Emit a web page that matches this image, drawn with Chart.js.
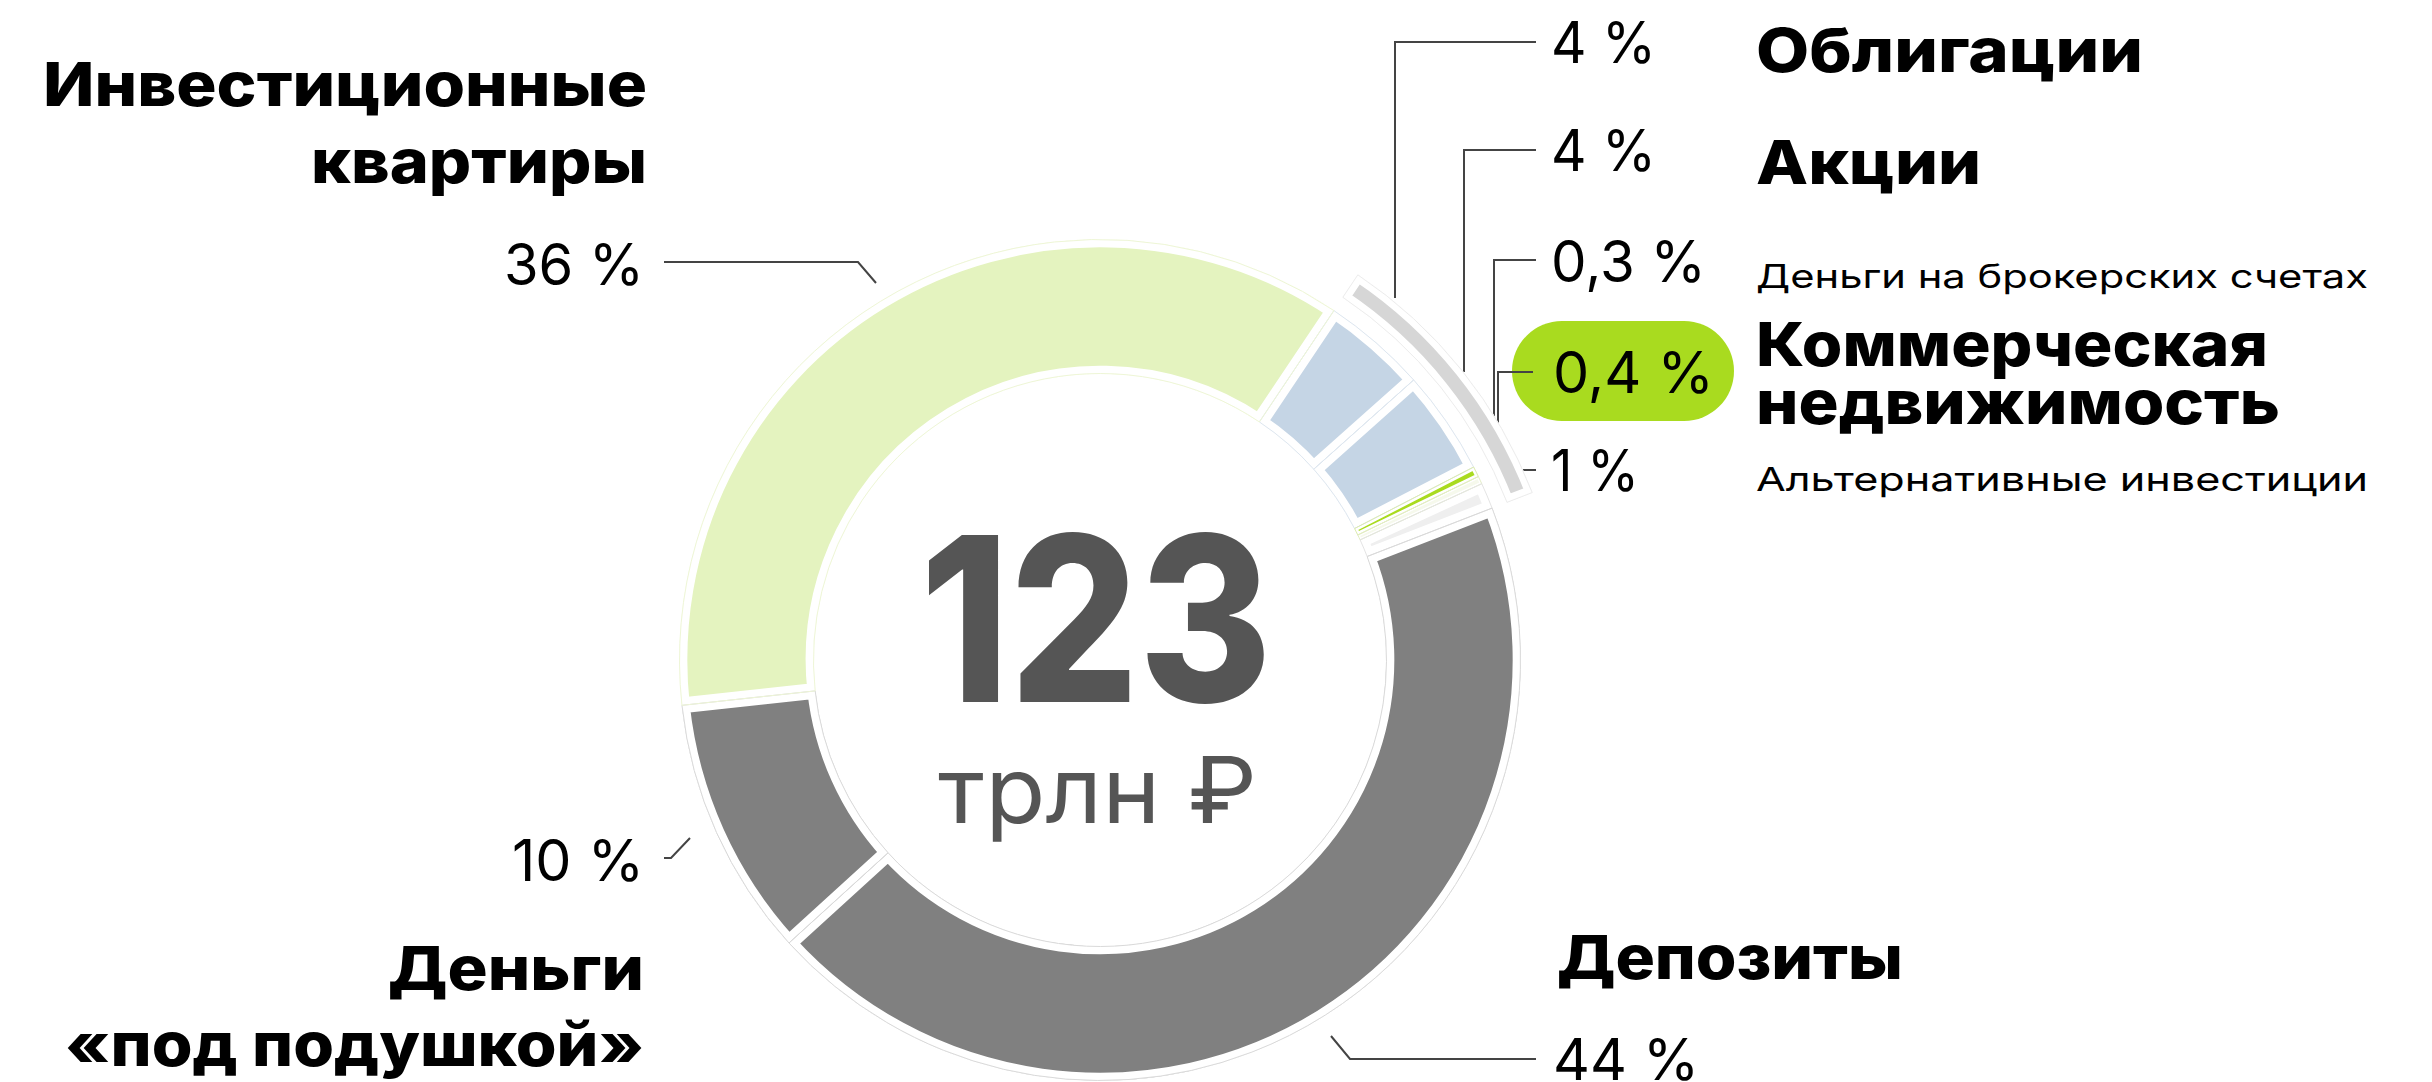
<!DOCTYPE html>
<html lang="ru">
<head>
<meta charset="utf-8">
<title>123 трлн ₽</title>
<script src="https://cdn.jsdelivr.net/npm/chart.js@4.4.0/dist/chart.umd.min.js"></script>
<style>
  html, body { margin: 0; padding: 0; background: #fff; }
  body { position: relative; width: 2432px; height: 1082px; overflow: hidden; font-family: Inter, "Noto Sans", sans-serif; font-variant-numeric: proportional-nums; }
  #wrap { position: absolute; left: 636px; top: 196px; width: 928px; height: 928px; }
  .lbl { position: absolute; white-space: nowrap; line-height: 1.2; transform-origin: 0 0; }
  .mark { display: inline-block; width: 0; height: 0; }
  .pill { position: absolute; left: 1512px; top: 321px; width: 222px; height: 100px; border-radius: 50px; background: #a9db1f; }
  svg { position: absolute; left: 0; top: 0; }
</style>
</head>
<body>
<div class="pill"></div>
<svg width="2432" height="1082" id="leaders"></svg>
<div id="wrap"><canvas id="donut" width="928" height="928"></canvas></div>
<script>
// Доли структуры сбережений (в процентах), порядок по часовой стрелке
const categories = [
  'Облигации',
  'Акции',
  'Коммерческая недвижимость',
  'Деньги на брокерских счетах',
  'Альтернативные инвестиции',
  'Депозиты',
  'Деньги «под подушкой»',
  'Инвестиционные квартиры'
];
const shares = [4, 4, 0.4, 0.3, 1, 44, 10, 36];
// первые пять категорий объединены внешней серой дугой
const groupedCount = 5;
const totalValue = '123';
const totalUnit = 'трлн ₽';

// Оформление
const sliceColors = ['#c5d5e5', '#c5d5e5', '#a9db1f', '#f6f9ec', '#efefef', '#808080', '#808080', '#e4f3bf'];
const outlineColors = ['#dde6ef', '#dde6ef', '#dcebb0', '#e3edc4', '#e4e4e4', '#d9d9d9', '#d9d9d9', '#eef6d6'];
const sliceBorders = [8, 8, 3, 2, 8, 8, 8, 8];

const groupedValues = [
  shares.slice(0, groupedCount).reduce((a, b) => a + b, 0),
  shares.slice(groupedCount).reduce((a, b) => a + b, 0)
];

// Обводка сегментов тонкой линией по границе
const outlinePlugin = {
  id: 'sliceOutline',
  afterDatasetsDraw(chart) {
    const ctx = chart.ctx;
    chart.data.datasets.forEach((ds, di) => {
      if (!ds.outlineColor) return;
      chart.getDatasetMeta(di).data.forEach((arc, i) => {
        const c = ds.outlineColor[i];
        if (!c) return;
        const p = arc.getProps(['x', 'y', 'startAngle', 'endAngle', 'innerRadius', 'outerRadius'], true);
        ctx.save();
        ctx.beginPath();
        ctx.arc(p.x, p.y, p.outerRadius - 0.5, p.startAngle, p.endAngle);
        ctx.arc(p.x, p.y, p.innerRadius + 0.5, p.endAngle, p.startAngle, true);
        ctx.closePath();
        ctx.lineWidth = 1;
        ctx.strokeStyle = c;
        ctx.stroke();
        ctx.restore();
      });
    });
  }
};

new Chart(document.getElementById('donut'), {
  type: 'doughnut',
  data: {
    labels: categories,
    datasets: [
      {
        // внешняя дуга-группа
        data: groupedValues,
        backgroundColor: ['#d6d6d6', 'rgba(0,0,0,0)'],
        borderColor: '#ffffff',
        borderWidth: [7, 0],
        outlineColor: ['#ececec', null],
        weight: 28
      },
      {
        // зазор между кольцами
        data: [1],
        backgroundColor: ['rgba(0,0,0,0)'],
        borderWidth: 0,
        weight: 15
      },
      {
        data: shares,
        backgroundColor: sliceColors,
        borderColor: '#ffffff',
        borderWidth: sliceBorders,
        outlineColor: outlineColors,
        weight: 135
      }
    ]
  },
  options: {
    responsive: false,
    devicePixelRatio: 1,
    animation: false,
    events: [],
    cutout: 286,
    rotation: 33.8,
    layout: { padding: 0 },
    elements: { arc: { borderAlign: 'inner', hoverBorderWidth: 0 } },
    plugins: { legend: { display: false }, tooltip: { enabled: false } }
  },
  plugins: [outlinePlugin]
});

// Подписи: положение x0..x1 (ширина), базовая линия
const fmtPct = v => String(v).replace('.', ',') + '\u00a0%';
const layout = [
  { pct: [1551, 1656, 63], name: [[1756, 2143, 72]], kind: 'bold' },
  { pct: [1551, 1656, 171], name: [[1756, 1981, 184]], kind: 'bold' },
  { pct: [1553, 1714, 393], name: [[1756, 2268, 366], [1756, 2280, 424]], kind: 'bold' },
  { pct: [1551, 1706, 282], name: [[1756, 2368, 288]], kind: 'small' },
  { pct: [1551, 1639, 491], name: [[1756, 2368, 491]], kind: 'small' },
  { pct: [1553, 1699, 1080], name: [[1557, 1903, 979]], kind: 'bold' },
  { pct: [512, 644, 881], name: [[388, 644, 990], [65, 644, 1066]], kind: 'bold' },
  { pct: [504, 644, 285], name: [[43, 647, 106], [311, 647, 183]], kind: 'bold' }
];
const fonts = {
  bold: { size: 61, weight: 800 },
  small: { size: 33, weight: 400 },
  pct: { size: 58, weight: 400 }
};

// текст растягивается по ширине, чтобы совпасть с макетом
function addLabel(text, x0, x1, base, size, weight, color) {
  const el = document.createElement('div');
  el.className = 'lbl';
  el.style.fontSize = size + 'px';
  el.style.fontWeight = weight;
  el.style.color = color || '#000';
  const span = document.createElement('span');
  span.textContent = text;
  const mark = document.createElement('span');
  mark.className = 'mark';
  el.append(span, mark);
  document.body.appendChild(el);
  const w0 = span.getBoundingClientRect().width;
  el.style.left = x0 + 'px';
  el.style.top = (base - mark.offsetTop) + 'px';
  el.style.transform = 'scaleX(' + ((x1 - x0) / w0) + ')';
}

categories.forEach((name, i) => {
  const L = layout[i];
  addLabel(fmtPct(shares[i]), L.pct[0], L.pct[1], L.pct[2], fonts.pct.size, fonts.pct.weight);
  const lines = L.name.length > 1
    ? [name.slice(0, name.indexOf(' ')), name.slice(name.indexOf(' ') + 1)]
    : [name];
  lines.forEach((t, k) => {
    const f = fonts[L.kind];
    addLabel(t, L.name[k][0], L.name[k][1], L.name[k][2], f.size, f.weight);
  });
});

addLabel(totalValue, 920, 1272, 702, 230, 800, '#555555');
addLabel(totalUnit, 938, 1257, 823, 92, 400, '#555555');

// Выноски
const leaders = [
  [[664, 262], [858, 262], [876, 283]],
  [[664, 858], [671, 858], [690, 838]],
  [[1331, 1036], [1350, 1059], [1536, 1059]],
  [[1536, 42], [1395, 42], [1395, 298]],
  [[1536, 150], [1464, 150], [1464, 372]],
  [[1536, 260], [1494, 260], [1494, 417]],
  [[1533, 372], [1498, 372], [1498, 425]],
  [[1521, 470], [1536, 470]]
];
const svg = document.getElementById('leaders');
leaders.forEach(pts => {
  const pl = document.createElementNS('http://www.w3.org/2000/svg', 'polyline');
  pl.setAttribute('points', pts.map(p => p.join(',')).join(' '));
  pl.setAttribute('fill', 'none');
  pl.setAttribute('stroke', '#444');
  pl.setAttribute('stroke-width', '2');
  svg.appendChild(pl);
});
</script>
</body>
</html>
